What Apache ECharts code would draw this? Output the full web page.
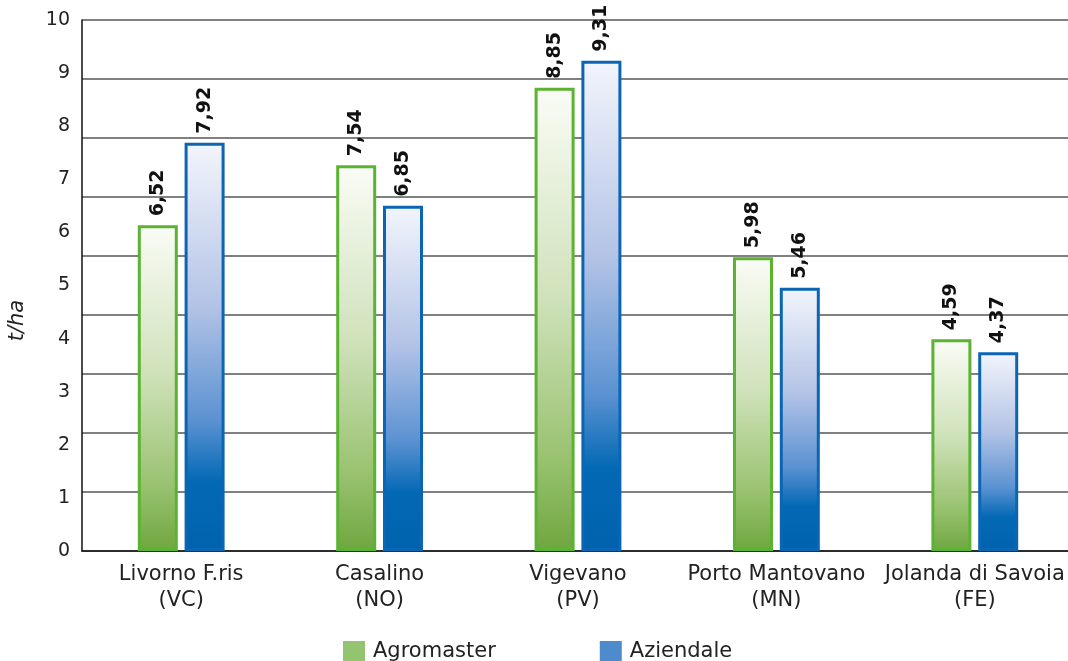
<!DOCTYPE html>
<html>
<head>
<meta charset="utf-8">
<script src="https://cdn.jsdelivr.net/npm/echarts@6/dist/echarts.min.js"></script>
<style>
html,body{margin:0;padding:0;background:#fff;}
#chart{width:1068px;height:661px;}
</style>
</head>
<body>
<div id="chart"></div>
<script>
const categories = ['Livorno F.ris\n(VC)', 'Casalino\n(NO)', 'Vigevano\n(PV)', 'Porto Mantovano\n(MN)', 'Jolanda di Savoia\n(FE)'];
const agromaster = [6.52, 7.54, 8.85, 5.98, 4.59];
const aziendale = [7.92, 6.85, 9.31, 5.46, 4.37];
const tickLabelsMin = 0;
const tickLabelsMax = 10;
const barAxisMin = 1;
const barAxisMax = 10;

const FONT = 'DejaVu Sans';
const fmt = v => String(v.toFixed(2)).replace('.', ',');

const greenGrad = new echarts.graphic.LinearGradient(0, 0, 0, 1, [
  {offset: 0, color: '#fafcf6'},
  {offset: 0.45, color: '#d0e2bb'},
  {offset: 0.8, color: '#99c270'},
  {offset: 1, color: '#6fa63f'}
]);
const blueGrad = new echarts.graphic.LinearGradient(0, 0, 0, 1, [
  {offset: 0, color: '#f3f5fc'},
  {offset: 0.4, color: '#b3c3e6'},
  {offset: 0.68, color: '#5b92d2'},
  {offset: 0.83, color: '#0469b5'},
  {offset: 1, color: '#0062ad'}
]);

const labelCfg = {
  show: true,
  position: 'top',
  rotate: 90,
  align: 'left',
  verticalAlign: 'middle',
  distance: 9,
  fontFamily: FONT,
  fontWeight: 'bold',
  fontSize: 19,
  color: '#111',
  formatter: p => fmt(p.value)
};

const chart = echarts.init(document.getElementById('chart'), null, {renderer: 'canvas'});
chart.setOption({
  animation: false,
  backgroundColor: '#fff',
  textStyle: {fontFamily: FONT},
  grid: {left: 82, right: -6, top: 20, bottom: 110, containLabel: false, outerBoundsMode: 'none'},
  legend: {
    left: 338, top: 636,
    itemWidth: 22, itemHeight: 22, itemGap: 104,
    icon: 'rect',
    textStyle: {fontFamily: FONT, fontSize: 21, color: '#222', padding: [0, 0, 0, 3]},
    data: [
      {name: 'Agromaster', itemStyle: {color: '#93c470', borderWidth: 0}},
      {name: 'Aziendale', itemStyle: {color: '#4e8bcd', borderWidth: 0}}
    ]
  },
  xAxis: {
    type: 'category',
    data: categories,
    axisTick: {show: false},
    axisLine: {lineStyle: {color: '#111', width: 1.5}},
    axisLabel: {interval: 0, fontFamily: FONT, fontSize: 21, color: '#222', margin: 11, lineHeight: 26}
  },
  yAxis: [
    {
      type: 'value', position: 'left',
      min: barAxisMin, max: barAxisMax, interval: 1, startValue: barAxisMin,
      name: 't/ha', nameLocation: 'middle', nameGap: 54,
      nameTextStyle: {fontFamily: FONT, fontStyle: 'italic', fontSize: 21, color: '#222', padding: [0, 70, 0, 0]},
      axisLine: {show: true, lineStyle: {color: '#111', width: 1.5}},
      axisTick: {show: false},
      axisLabel: {show: false},
      splitLine: {show: true, lineStyle: {color: '#808080', width: 2}}
    },
    {
      type: 'value', position: 'left',
      min: tickLabelsMin, max: tickLabelsMax, interval: 1,
      axisLine: {show: false},
      axisTick: {show: false},
      splitLine: {show: false},
      axisLabel: {fontFamily: FONT, fontSize: 19, color: '#222', margin: 12}
    }
  ],
  series: [
    {
      name: 'Agromaster', type: 'bar', yAxisIndex: 0,
      data: agromaster, barWidth: 40, barGap: '17%',
      itemStyle: {color: greenGrad, borderColor: '#5bb332', borderWidth: 3},
      label: labelCfg
    },
    {
      name: 'Aziendale', type: 'bar', yAxisIndex: 0,
      data: aziendale, barWidth: 40, barGap: '17%',
      itemStyle: {color: blueGrad, borderColor: '#0a66b3', borderWidth: 3},
      label: labelCfg
    }
  ]
});
</script>
</body>
</html>
